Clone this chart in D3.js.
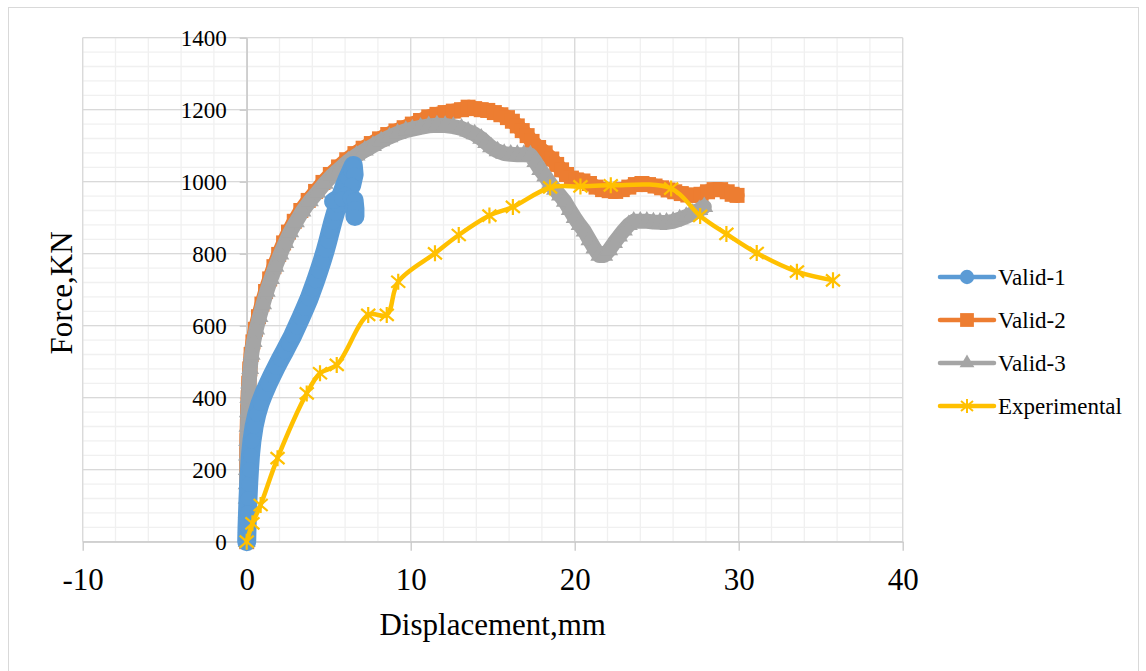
<!DOCTYPE html>
<html>
<head>
<meta charset="utf-8">
<script src="https://cdn.jsdelivr.net/npm/d3@7"></script>
<style>
  body { margin: 0; background: #fff; }
  text { font-family: "Liberation Serif", "Times New Roman", serif; fill: #000; }
</style>
</head>
<body>
<svg id="vis"></svg>
<script>
// datos: [desplazamiento mm, fuerza KN]
const valid1 = [
  [0,0],[0.02,40],[0.05,80],[0.08,120],[0.12,160],[0.17,200],[0.23,240],[0.32,280],
  [0.45,320],[0.62,355],[0.82,385],[1.05,412],[1.3,438],[1.55,462],[1.8,485],[2.05,507],
  [2.3,528],[2.55,550],[2.8,572],[3.05,597],[3.3,622],[3.55,648],[3.8,675],[4.0,700],
  [4.2,725],[4.4,752],[4.6,780],[4.8,810],[4.95,835],[5.1,862],[5.25,888],[5.4,912],
  [5.55,935],[5.75,962],[5.95,988],[6.15,1010],[6.35,1030],[6.5,1045],[6.55,1020],
  [6.4,990],[6.0,965],[5.5,950],[5.3,945],[5.8,952],[6.3,955],[6.55,948],[6.6,925],[6.6,903]
];

const valid2 = [
  [0,0],[0,40],[0,80],[0,120],[0,160],[0,200],[0.01,240],[0.02,280],[0.04,320],[0.06,360],
  [0.09,400],[0.13,440],[0.19,480],[0.27,520],[0.38,555],[0.53,590],[0.72,625],[0.93,660],
  [1.15,695],[1.4,730],[1.66,764],[1.95,798],[2.25,830],[2.55,860],[2.9,890],[3.3,920],
  [3.75,948],[4.2,973],[4.65,998],[5.1,1020],[5.6,1041],[6.1,1061],[6.6,1078],[7.1,1093],
  [7.6,1106],[8.1,1119],[8.6,1131],[9.1,1141],[9.6,1150],[10.1,1160],[10.6,1170],[11.1,1180],
  [11.6,1187],[12.1,1192],[12.6,1196],[13.1,1200],[13.5,1207],[13.9,1203],[14.3,1200],
  [14.7,1198],[15.1,1192],[15.5,1186],[15.9,1178],[16.2,1168],[16.5,1155],[16.8,1142],
  [17.1,1128],[17.4,1112],[17.8,1095],[18.2,1080],[18.6,1063],[18.9,1048],[19.2,1033],
  [19.5,1020],[19.8,1010],[20.1,1005],[20.5,1002],[20.9,995],[21.3,985],[21.7,978],
  [22.1,975],[22.5,973],[22.9,978],[23.3,985],[23.7,992],[24.1,995],[24.5,992],[24.9,988],
  [25.3,983],[25.7,977],[26.1,972],[26.5,967],[26.9,963],[27.3,962],[27.7,965],[28.1,972],
  [28.5,978],[28.9,978],[29.3,972],[29.6,965],[29.9,962]
];

const valid3 = [
  [0,0],[0,40],[0,80],[0,120],[0,160],[0.01,200],[0.02,240],[0.03,280],[0.05,320],[0.07,360],
  [0.1,400],[0.15,440],[0.21,480],[0.3,520],[0.42,555],[0.58,590],[0.78,625],[1.0,660],
  [1.22,695],[1.48,730],[1.75,764],[2.05,798],[2.35,830],[2.65,860],[3.0,888],[3.4,918],
  [3.85,946],[4.3,970],[4.75,995],[5.2,1017],[5.7,1037],[6.2,1057],[6.7,1073],[7.2,1087],
  [7.7,1100],[8.2,1113],[8.7,1124],[9.2,1134],[9.7,1142],[10.1,1146],[10.6,1151],[11.1,1155],
  [11.6,1157],[12.1,1156],[12.6,1153],[13.1,1148],[13.5,1140],[13.9,1132],[14.3,1120],
  [14.6,1108],[14.9,1096],[15.3,1085],[15.7,1078],[16.1,1076],[16.5,1075],[16.9,1075],
  [17.3,1074],[17.6,1055],[17.9,1033],[18.2,1015],[18.5,995],[18.8,978],[19.1,962],
  [19.4,945],[19.7,922],[20.0,900],[20.3,880],[20.6,862],[20.9,838],[21.2,815],[21.5,795],
  [21.8,795],[22.1,810],[22.4,830],[22.7,848],[23.0,865],[23.3,880],[23.6,890],[24.0,890],
  [24.4,890],[24.8,888],[25.2,887],[25.6,887],[26.0,890],[26.4,896],[26.8,903],[27.2,912],
  [27.6,922],[27.9,930]
];

const experimental = [
  [0,0],[0.35,51],[0.85,102],[1.88,232],[3.66,412],[4.47,468],[5.49,491],[7.41,630],
  [8.54,630],[9.24,722],[11.48,801],[12.93,852],[14.8,906],[16.23,930],[18.5,984],
  [20.35,987],[22.2,990],[25.88,981],[27.65,905],[29.25,855],[31.1,802],[33.55,750],[35.75,726]
];

const seriesNames = ["Valid-1", "Valid-2", "Valid-3", "Experimental"];
const xTicks = [-10, 0, 10, 20, 30, 40];
const yTicks = [0, 200, 400, 600, 800, 1000, 1200, 1400];

const WIDTH = 1146;
const HEIGHT = 671;

const svg = d3.select("#vis")
    .attr("width", WIDTH)
    .attr("height", HEIGHT);

// marco del grafico
svg.append("rect")
    .attr("x", 8.5).attr("y", 7.5)
    .attr("width", 1130).attr("height", 670)
    .attr("fill", "none")
    .attr("stroke", "#d9d9d9");

const escalaX = d3.scaleLinear().domain([-10, 40]).range([82.7, 902.7]);
const escalaY = d3.scaleLinear().domain([0, 1400]).range([541.7, 37.7]);

// grilla menor
const grid = svg.append("g");
grid.selectAll(".vmin")
    .data(d3.range(-10, 40.01, 2))
    .join("line")
    .attr("x1", d => escalaX(d)).attr("x2", d => escalaX(d))
    .attr("y1", escalaY(0)).attr("y2", escalaY(1400))
    .attr("stroke", "#f0f0f0").attr("stroke-width", 1.3);
grid.selectAll(".hmin")
    .data(d3.range(0, 1400.1, 40))
    .join("line")
    .attr("x1", escalaX(-10)).attr("x2", escalaX(40))
    .attr("y1", d => escalaY(d)).attr("y2", d => escalaY(d))
    .attr("stroke", "#f0f0f0").attr("stroke-width", 1.3);
// grilla mayor
grid.selectAll(".vmaj")
    .data(xTicks)
    .join("line")
    .attr("x1", d => escalaX(d)).attr("x2", d => escalaX(d))
    .attr("y1", escalaY(0)).attr("y2", escalaY(1400))
    .attr("stroke", "#d9d9d9").attr("stroke-width", 1.3);
grid.selectAll(".hmaj")
    .data(yTicks)
    .join("line")
    .attr("x1", escalaX(-10)).attr("x2", escalaX(40))
    .attr("y1", d => escalaY(d)).attr("y2", d => escalaY(d))
    .attr("stroke", "#d9d9d9").attr("stroke-width", 1.3);

// ejes
const ejeX = d3.axisBottom(escalaX).tickValues(xTicks).tickSize(9).tickSizeOuter(0).tickPadding(17)
    .tickFormat(d => d < 0 ? "-" + Math.abs(d) : String(d));
const ejeY = d3.axisLeft(escalaY).tickValues(yTicks).tickSize(7).tickSizeOuter(0).tickPadding(13)
    .tickFormat(d => String(d));

const gX = svg.append("g")
    .attr("transform", `translate(0, ${escalaY(0)})`)
    .call(ejeX);
const gY = svg.append("g")
    .attr("transform", `translate(${escalaX(0)}, 0)`)
    .call(ejeY);

[gX, gY].forEach(g => {
    g.selectAll("path, line").attr("stroke", "#c8c8c8").attr("stroke-width", 1.3);
    g.selectAll("text").attr("font-family", "Liberation Serif").attr("fill", "#000");
});
gX.selectAll("text").attr("font-size", 31);
gY.selectAll("text").attr("font-size", 23);

// titulos
svg.append("text")
    .attr("x", 492.7).attr("y", 635)
    .attr("text-anchor", "middle")
    .attr("font-size", 31)
    .text("Displacement,mm");
svg.append("text")
    .attr("transform", "translate(72, 293) rotate(-90)")
    .attr("text-anchor", "middle")
    .attr("font-size", 31)
    .text("Force,KN");

const colores = ["#5b9bd5", "#ed7d31", "#a5a5a5", "#ffc000"];

const linea = d3.line().x(d => escalaX(d[0])).y(d => escalaY(d[1]));
const lineaSuave = d3.line().x(d => escalaX(d[0])).y(d => escalaY(d[1])).curve(d3.curveCatmullRom.alpha(0.5));

const simbolos = {
    circle: d3.symbol(d3.symbolCircle, 180)(),
    square: d3.symbol(d3.symbolSquare, 225)(),
    triangle: d3.symbol(d3.symbolTriangle, 140)(),
    star: "M0,-8L0,8M-7,-6L7,6M-7,6L7,-6"
};
const simbolosLeyenda = {
    circle: d3.symbol(d3.symbolCircle, 160)(),
    square: d3.symbol(d3.symbolSquare, 190)(),
    triangle: d3.symbol(d3.symbolTriangle, 95)(),
    star: "M0,-7L0,7M-6,-5L6,5M-6,5L6,-5"
};

function dibujarSerie(datos, color, grosor, forma, suave) {
    const g = svg.append("g");
    g.append("path")
        .datum(datos)
        .attr("d", suave ? lineaSuave : linea)
        .attr("fill", "none")
        .attr("stroke", color)
        .attr("stroke-width", grosor)
        .attr("stroke-linejoin", "round")
        .attr("stroke-linecap", "round");
    g.selectAll(".marca")
        .data(datos)
        .join("path")
        .attr("transform", d => `translate(${escalaX(d[0])}, ${escalaY(d[1])})`)
        .attr("d", simbolos[forma])
        .attr("fill", forma === "star" ? "none" : color)
        .attr("stroke", color)
        .attr("stroke-width", forma === "star" ? 2.2 : 0);
}

dibujarSerie(valid2, colores[1], 15, "square", false);
dibujarSerie(valid3, colores[2], 15, "triangle", false);
dibujarSerie(valid1, colores[0], 19, "circle", false);
dibujarSerie(experimental, colores[3], 4.5, "star", true);

// leyenda
const formas = ["circle", "square", "triangle", "star"];
const leyenda = svg.append("g");
seriesNames.forEach((nombre, i) => {
    const yy = 277 + i * 43;
    leyenda.append("line")
        .attr("x1", 940).attr("x2", 994)
        .attr("y1", yy).attr("y2", yy)
        .attr("stroke", colores[i]).attr("stroke-width", 4.5)
        .attr("stroke-linecap", "round");
    leyenda.append("path")
        .attr("transform", `translate(967, ${yy})`)
        .attr("d", simbolosLeyenda[formas[i]])
        .attr("fill", formas[i] === "star" ? "none" : colores[i])
        .attr("stroke", colores[i])
        .attr("stroke-width", formas[i] === "star" ? 2 : 0);
    leyenda.append("text")
        .attr("x", 998).attr("y", yy)
        .attr("dy", "0.35em")
        .attr("font-size", 23)
        .text(nombre);
});
</script>
</body>
</html>
